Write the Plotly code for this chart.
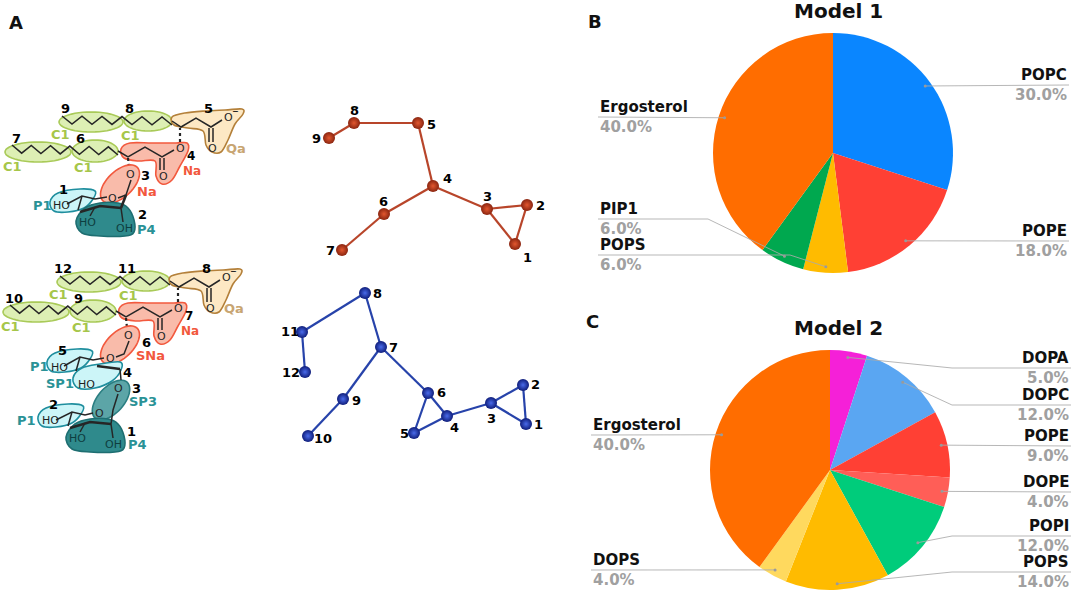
import numpy as np
import plotly.graph_objects as go

W, H = 1072, 593

# ---- pie data ----
m1_labels = ["POPC", "POPE", "POPS", "PIP1", "Ergosterol"]
m1_values = [30, 18, 6, 6, 40]
m1_colors = ["#0A86FF", "#FF4034", "#FFBB00", "#00A84F", "#FF6D00"]

m2_labels = ["DOPA", "DOPC", "POPE", "DOPE", "POPI", "POPS", "DOPS", "Ergosterol"]
m2_values = [5, 12, 9, 4, 12, 14, 4, 40]
m2_colors = ["#F520D8", "#5AA6F2", "#FF4034", "#FF5E57", "#00CC7B", "#FFBB00", "#FFD95E", "#FF6D00"]

# ---- coarse-grained bead models (picture pixel coords) ----
cg1_names = ["1", "2", "3", "4", "5", "6", "7", "8", "9"]
cg1_x = [515, 527, 487, 433, 418, 384, 342, 354, 329]
cg1_y = [244, 205, 209, 186, 123, 214, 250, 123, 138]
cg1_bonds = [(1, 2), (2, 3), (3, 1), (3, 4), (4, 5), (4, 6), (6, 7), (5, 8), (8, 9)]

cg2_names = ["1", "2", "3", "4", "5", "6", "7", "8", "9", "10", "11", "12"]
cg2_x = [526, 523, 491, 447, 414, 428, 381, 365, 343, 308, 302, 305]
cg2_y = [424, 385, 403, 416, 433, 393, 347, 293, 399, 436, 332, 372]
cg2_bonds = [(1, 2), (2, 3), (3, 1), (3, 4), (4, 5), (5, 6), (6, 4), (6, 7),
             (7, 8), (8, 11), (11, 12), (7, 9), (9, 10)]

# label offsets for bead numbers
cg1_lab_off = [(12, 13), (13, 0), (0, -13), (14, -8), (13, 1), (-1, -13), (-12, 0), (0, -13), (-13, 0)]
cg2_lab_off = [(12, 0), (12, -1), (0, 15), (7, 11), (-10, 0), (13, -1), (12, 0), (12, 0),
               (13, 1), (15, 2), (-12, -1), (-14, 0)]

FONT = "DejaVu Sans"
shapes = []
annos = []


def txt(x, y, s, color="#000", size=13, bold=True, anchor="center"):
    annos.append(dict(x=x, y=y, xref="x", yref="y", text=f"<b>{s}</b>" if bold else s,
                      showarrow=False, xanchor=anchor, yanchor="middle",
                      font=dict(family=FONT, size=size, color=color)))


def blob(pts, fill, line, dx=0, dy=0):
    p = [(x + dx, y + dy) for x, y in pts]
    n = len(p)
    d = f"M{p[0][0]},{p[0][1]}"
    for i in range(n):
        p0, p1, p2, p3 = p[i - 1], p[i], p[(i + 1) % n], p[(i + 2) % n]
        c1 = (p1[0] + (p2[0] - p0[0]) / 6, p1[1] + (p2[1] - p0[1]) / 6)
        c2 = (p2[0] - (p3[0] - p1[0]) / 6, p2[1] - (p3[1] - p1[1]) / 6)
        d += f" C{c1[0]:.1f},{c1[1]:.1f} {c2[0]:.1f},{c2[1]:.1f} {p2[0]:.1f},{p2[1]:.1f}"
    shapes.append(dict(type="path", path=d + " Z", xref="x", yref="y",
                       fillcolor=fill, line=dict(color=line, width=1.6)))


def oval(cx, cy, rx, ry, ang, fill, line):
    t = np.linspace(0, 2 * np.pi, 48, endpoint=False)
    a = np.radians(ang)
    xs = cx + rx * np.cos(t) * np.cos(a) - ry * np.sin(t) * np.sin(a)
    ys = cy + rx * np.cos(t) * np.sin(a) + ry * np.sin(t) * np.cos(a)
    d = "M" + " L".join(f"{x:.1f},{y:.1f}" for x, y in zip(xs, ys)) + " Z"
    shapes.append(dict(type="path", path=d, xref="x", yref="y",
                       fillcolor=fill, line=dict(color=line, width=1.6)))


def poly(pts, dx=0, dy=0, width=1.5, color="#262626", dash="solid"):
    d = "M" + " L".join(f"{x + dx},{y + dy}" for x, y in pts)
    shapes.append(dict(type="path", path=d, xref="x", yref="y",
                       line=dict(color=color, width=width, dash=dash)))


def zigzag(x0, y0, x1, y1, n, amp, dx=0, dy=0):
    pts = []
    for i in range(n + 1):
        f = i / n
        s = amp if i % 2 else -amp
        pts.append((x0 + (x1 - x0) * f, y0 + (y1 - y0) * f + s))
    poly(pts, dx, dy)


GREEN_F, GREEN_L, GREEN_T = "#DDEFB4", "#A9CA58", "#A6C64A"
QA_F, QA_L, QA_T = "#FDE8C4", "#B4803A", "#C8A572"
NA_F, NA_L, NA_T = "#F9BBAA", "#F2593E", "#F2573D"
P1_F, P1_L, TEAL_T = "#CCF5F8", "#1F8E9E", "#2A9296"
P4_F, P4_L = "#2F8A8C", "#1E6E71"
SP3_F, SP3_L = "#5CA5A7", "#2A7E81"

qa_pts = [(172, 117), (185, 113), (205, 111), (225, 110), (242, 109), (243, 114), (235, 124),
          (228, 140), (221, 152), (212, 152), (206, 145), (203, 131), (188, 128), (174, 125)]
na_pts = [(121, 149), (130, 143), (152, 143), (176, 143), (187, 143), (188, 151), (180, 166),
          (172, 180), (162, 184), (156, 176), (155, 161), (138, 161), (124, 158)]
p1_pts = [(50, 202), (58, 193), (80, 189), (95, 191), (93, 199), (84, 208), (68, 212), (54, 211)]
p4_pts = [(76, 221), (85, 208), (100, 203), (118, 203), (128, 208), (134, 220), (134, 232),
          (125, 236), (100, 236), (82, 233)]


def tails(dx, dy, nums, na_name):
    n_ul, n_ur, n_ll, n_lr, n_q, n_na = nums
    for cx, cy, rx, ry in [(91, 122, 32, 10), (148, 121, 24, 10), (38, 152, 33, 10), (95, 151, 23, 11)]:
        oval(cx + dx, cy + dy, rx, ry, 0, GREEN_F, GREEN_L)
    blob(qa_pts, QA_F, QA_L, dx, dy)
    blob(na_pts, NA_F, NA_L, dx, dy)
    # chains
    zigzag(62, 120, 172, 121, 11, 4, dx, dy)
    zigzag(12, 149, 118, 151, 11, 4, dx, dy)
    poly([(172, 121), (181, 127), (196, 118), (211, 127), (222, 120)], dx, dy)
    poly([(209, 128), (209, 142)], dx, dy)
    poly([(213, 128), (213, 142)], dx, dy)
    txt(212 + dx, 148 + dy, "O", "#262626", 11, False)
    txt(228 + dx, 117 + dy, "O", "#262626", 11, False)
    txt(235 + dx, 111 + dy, "−", "#262626", 8, True)
    poly([(118, 151), (128, 157), (145, 147), (162, 157), (174, 150)], dx, dy)
    poly([(160, 158), (160, 170)], dx, dy)
    poly([(164, 158), (164, 170)], dx, dy)
    txt(163 + dx, 176 + dy, "O", "#262626", 11, False)
    txt(180 + dx, 148 + dy, "O", "#262626", 11, False)
    poly([(180, 142), (180, 128)], dx, dy, width=2.2, dash="dot")
    poly([(128, 158), (129, 168)], dx, dy, width=2.2, dash="dot")
    # labels
    txt(65 + dx, 108 + dy, n_ul)
    txt(129 + dx, 108 + dy, n_ur)
    txt(16 + dx, 138 + dy, n_ll)
    txt(80 + dx, 138 + dy, n_lr)
    txt(208 + dx, 108 + dy, n_q)
    txt(191 + dx, 156 + dy, n_na, size=12)
    txt(60 + dx, 134 + dy, "C1", GREEN_T)
    txt(130 + dx, 135 + dy, "C1", GREEN_T)
    txt(12 + dx, 166 + dy, "C1", GREEN_T)
    txt(83 + dx, 167 + dy, "C1", GREEN_T)
    txt(236 + dx, 148 + dy, "Qa", QA_T)
    txt(192 + dx, 171 + dy, na_name, NA_T, 12)


# ---- structure 1 (top) ----
tails(0, 0, ["9", "8", "7", "6", "5", "4"], "Na")
oval(120, 184, 24, 13, -44, NA_F, NA_L)
blob(p1_pts, P1_F, P1_L)
blob(p4_pts, P4_F, P4_L)
txt(130, 174, "O", "#262626", 11, False)
txt(112, 198, "O", "#262626", 11, False)
poly([(131, 180), (126, 195), (118, 198)])
poly([(126, 195), (121, 208)], width=2.6)
poly([(67, 204), (82, 196), (95, 199), (107, 197)])
poly([(82, 196), (78, 210)])
poly([(80, 212), (100, 206), (121, 208)], width=2.6)
poly([(95, 207), (90, 216)])
poly([(121, 208), (123, 222)])
txt(145, 175, "3")
txt(147, 191, "Na", NA_T)
txt(63, 189, "1")
txt(42, 205, "P1", TEAL_T)
txt(61, 205, "HO", "#1E1E1E", 11, False)
txt(87, 222, "HO", "#0E3E40", 11, False)
txt(124, 228, "OH", "#0E3E40", 11, False)
txt(142, 214, "2")
txt(146, 229, "P4", TEAL_T)

# ---- structure 2 (bottom) ----
tails(-2, 160, ["12", "11", "10", "9", "8", "7"], "Na")
oval(120, 345, 24, 13, -44, NA_F, NA_L)
blob(p1_pts, P1_F, P1_L, -3, 160)
blob([(73, 378), (82, 368), (100, 364), (120, 362), (121, 370), (112, 381), (95, 388), (78, 388)],
     P1_F, P1_L)
oval(111, 400, 24, 13, -48, SP3_F, SP3_L)
blob(p1_pts, P1_F, P1_L, -12, 215)
blob(p4_pts, P4_F, P4_L, -10, 216)
txt(128, 335, "O", "#262626", 11, False)
txt(110, 358, "O", "#262626", 11, False)
poly([(129, 341), (124, 354), (116, 357)])
poly([(97, 366), (120, 369)], width=2.6)
poly([(120, 369), (121, 380)])
poly([(64, 366), (80, 357), (93, 360), (104, 358)])
poly([(80, 357), (76, 371)])
txt(118, 388, "O", "#262626", 11, False)
txt(99, 413, "O", "#262626", 11, False)
poly([(56, 420), (72, 412), (85, 415), (93, 413)])
poly([(72, 412), (68, 426)])
poly([(70, 428), (90, 422), (111, 424)], width=2.6)
poly([(118, 394), (113, 410), (111, 424)])
poly([(85, 423), (80, 432)])
poly([(111, 424), (113, 438)])
txt(146, 342, "6")
txt(150, 355, "SNa", NA_T)
txt(62, 350, "5")
txt(39, 366, "P1", TEAL_T)
txt(59, 367, "HO", "#1E1E1E", 11, False)
txt(60, 383, "SP1", TEAL_T)
txt(86, 384, "HO", "#1E1E1E", 11, False)
txt(127, 372, "4")
txt(136, 388, "3")
txt(143, 401, "SP3", TEAL_T)
txt(53, 404, "2")
txt(26, 420, "P1", TEAL_T)
txt(50, 420, "HO", "#1E1E1E", 11, False)
txt(131, 431, "1")
txt(137, 444, "P4", TEAL_T)
txt(77, 438, "HO", "#0E3E40", 11, False)
txt(113, 444, "OH", "#0E3E40", 11, False)

traces = []


def beads(xs, ys, names, bonds, offs, bond_col, outer, inner):
    bx, by = [], []
    for a, b in bonds:
        bx += [xs[a - 1], xs[b - 1], None]
        by += [ys[a - 1], ys[b - 1], None]
    traces.append(go.Scatter(x=bx, y=by, mode="lines", line=dict(color=bond_col, width=2.2),
                             hoverinfo="skip", showlegend=False))
    traces.append(go.Scatter(x=xs, y=ys, mode="markers", text=names, hoverinfo="text",
                             marker=dict(size=12, color=outer, line=dict(width=0),
                                         gradient=dict(type="radial", color=inner)),
                             showlegend=False))
    for x, y, n, (ox, oy) in zip(xs, ys, names, offs):
        txt(x + ox, y + oy, n)


beads(cg1_x, cg1_y, cg1_names, cg1_bonds, cg1_lab_off, "#B8452A", "#8A2510", "#E2572F")
beads(cg2_x, cg2_y, cg2_names, cg2_bonds, cg2_lab_off, "#2743AA", "#0F1D7A", "#4A6BEA")

# ---- pies ----
pie1_c, pie2_c, R = (833, 153), (830, 470), 120
m1_side = ["r", "r", "l", "l", "l"]
m1_line_y = [85, 241, 255, 219, 117]
m1_elbow = [None, None, 790, 708, None]
m2_side = ["r", "r", "r", "r", "r", "r", "l", "l"]
m2_line_y = [368, 405, 446, 492, 536, 572, 570, 435]
m2_elbow = [952, 952, None, None, 952, 952, None, None]


def pie(labels, values, colors, c, side, line_y, elbow, left_x, right_x, title, letter, letter_xy):
    cx, cy = c
    traces.append(go.Pie(labels=labels, values=values, sort=False, direction="clockwise",
                         rotation=0, marker=dict(colors=colors, line=dict(width=0)),
                         textinfo="none", hoverinfo="label+percent", showlegend=False,
                         domain=dict(x=[(cx - R) / W, (cx + R) / W],
                                     y=[1 - (cy + R) / H, 1 - (cy - R) / H])))
    tot = sum(values)
    cum = 0
    for lab, v, sd, ly, ex in zip(labels, values, side, line_y, elbow):
        mid = (cum + v / 2) / tot
        cum += v
        th = 2 * np.pi * mid
        dx_, dy_ = cx + 0.95 * R * np.sin(th), cy - 0.95 * R * np.cos(th)
        tx = right_x if sd == "r" else left_x
        pts = [(tx, ly)]
        if ex is not None:
            pts.append((ex, ly))
        pts.append((dx_, dy_))
        poly(pts, width=1, color="rgba(170,170,170,0.85)")
        shapes.append(dict(type="circle", xref="x", yref="y", x0=dx_ - 1.5, x1=dx_ + 1.5,
                           y0=dy_ - 1.5, y1=dy_ + 1.5, fillcolor="#9A9A9A", line=dict(width=0)))
        anc = "right" if sd == "r" else "left"
        txt(tx, ly - 10, lab, "#111", 15, True, anc)
        txt(tx, ly + 10, f"{v / tot * 100:.1f}%", "#A0A0A0", 15, True, anc)
    txt(838, cy - R - 22, title, "#111", 20)
    txt(letter_xy[0], letter_xy[1], letter, "#111", 18)


pie(m1_labels, m1_values, m1_colors, pie1_c, m1_side, m1_line_y, m1_elbow, 598, 1069,
    "Model 1", "B", (595, 21))
pie(m2_labels, m2_values, m2_colors, pie2_c, m2_side, m2_line_y, m2_elbow, 591, 1071,
    "Model 2", "C", (592, 321))
txt(16, 22, "A", "#111", 18)

fig = go.Figure(traces)
fig.update_layout(
    width=W, height=H, margin=dict(l=0, r=0, t=0, b=0),
    paper_bgcolor="white", plot_bgcolor="rgba(0,0,0,0)",
    xaxis=dict(range=[0, W], visible=False, fixedrange=True),
    yaxis=dict(range=[H, 0], visible=False, fixedrange=True),
    shapes=shapes, annotations=annos, showlegend=False,
)
fig.write_html("out.html", config={"displayModeBar": False},
               post_script="document.body.style.margin='0';")
